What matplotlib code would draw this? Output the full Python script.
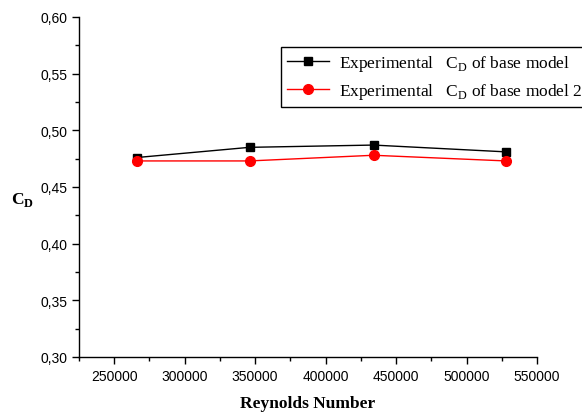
import matplotlib
matplotlib.use("Agg")
import matplotlib.pyplot as plt
from matplotlib.ticker import MultipleLocator, FuncFormatter

reynolds = [266000, 346000, 434000, 528000]
cd_base = [0.476, 0.485, 0.487, 0.481]
cd_base2 = [0.473, 0.473, 0.478, 0.473]
label1 = "Experimental   C$_{\\mathregular{D}}$ of base model"
label2 = "Experimental   C$_{\\mathregular{D}}$ of base model 2"

plt.rcParams['mathtext.fontset'] = 'custom'
plt.rcParams['mathtext.rm'] = 'Liberation Serif'
plt.rcParams['mathtext.bf'] = 'Liberation Serif:bold'

fig = plt.figure(figsize=(5.82, 4.14), dpi=100)
ax = fig.add_axes([79/582, 1-358/414, (537-79)/582, (358-18)/414])

ax.plot(reynolds, cd_base, color='black', marker='s', markersize=5.5, linewidth=1, label=label1)
ax.plot(reynolds, cd_base2, color='red', marker='o', markersize=7, linewidth=1, label=label2)

ax.set_xlim(225000, 550000)
ax.set_ylim(0.30, 0.60)
ax.xaxis.set_major_locator(MultipleLocator(50000))
ax.xaxis.set_minor_locator(MultipleLocator(25000))
ax.yaxis.set_major_locator(MultipleLocator(0.05))
ax.yaxis.set_minor_locator(MultipleLocator(0.025))
ax.yaxis.set_major_formatter(FuncFormatter(lambda v, p: f"{v:.2f}".replace('.', ',')))
ax.xaxis.set_major_formatter(FuncFormatter(lambda v, p: f"{int(round(v))}"))

for s in ['top', 'right']:
    ax.spines[s].set_visible(False)
for s in ['left', 'bottom']:
    ax.spines[s].set_linewidth(1)

ax.tick_params(which='both', direction='out', width=1)
ax.tick_params(which='major', length=5, labelsize=10)
ax.tick_params(which='minor', length=3)
for lab in ax.get_xticklabels() + ax.get_yticklabels():
    lab.set_fontfamily('Liberation Sans')

ax.set_xlabel("Reynolds Number", fontfamily='Liberation Serif', fontweight='bold', fontsize=12.5, labelpad=9)
fig.text(22/582, 1-200/414, "$\\mathbf{C}_{\\mathbf{D}}$", fontsize=12.5, ha='center', va='center')

leg = fig.legend(loc='upper left', bbox_to_anchor=(281/582, 1-48/414),
                 prop={'family': 'Liberation Serif', 'size': 12.5}, fancybox=False,
                 edgecolor='black', framealpha=1, borderaxespad=0, handlelength=2.4,
                 borderpad=0.35, labelspacing=0.45, handletextpad=0.6)
leg.get_frame().set_linewidth(1)

fig.savefig("out.png", dpi=100)
